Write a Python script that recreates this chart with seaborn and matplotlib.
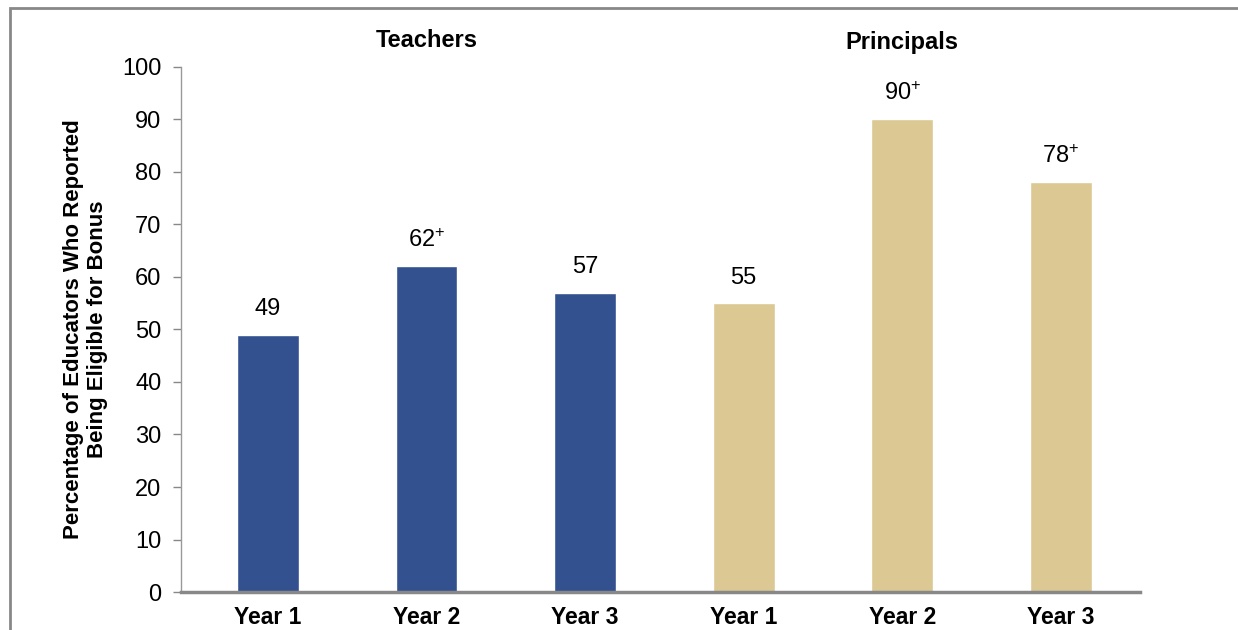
import pandas as pd
import seaborn as sns
import matplotlib.pyplot as plt
from matplotlib.patches import Rectangle

# values
groups = ["Teachers", "Teachers", "Teachers", "Principals", "Principals", "Principals"]
years = ["Year 1", "Year 2", "Year 3", "Year 1", "Year 2", "Year 3"]
values = [49, 62, 57, 55, 90, 78]
labels = ["49", "62$^{+}$", "57", "55", "90$^{+}$", "78$^{+}$"]
palette = {"Teachers": "#34518f", "Principals": "#dbc892"}


def main():
    sns.set_style("white")
    plt.rcParams["font.family"] = ["Liberation Sans", "DejaVu Sans"]
    plt.rcParams["mathtext.default"] = "regular"
    plt.rcParams["text.color"] = "black"
    plt.rcParams["axes.labelcolor"] = "black"
    plt.rcParams["xtick.color"] = "black"
    plt.rcParams["ytick.color"] = "black"

    df = pd.DataFrame({"group": groups, "year": years, "value": values})
    df["slot"] = df["group"] + " " + df["year"]

    fig = plt.figure(figsize=(12.38, 6.3), dpi=100)
    ax = fig.add_axes([0.146, 0.0603, 0.775, 0.8334])

    sns.barplot(data=df, x="slot", y="value", hue="group", palette=palette,
                dodge=False, width=0.39, saturation=1, legend=False, ax=ax)

    ax.set_ylim(0, 100)
    ax.set_xlim(-0.55, 5.5)
    ax.set_yticks(range(0, 101, 10))
    ax.tick_params(axis="y", labelsize=17, length=6, width=1, color="#888888",
                   left=True, pad=8)
    ax.set_xticks(range(len(years)))
    ax.set_xticklabels(years, fontsize=16.5, fontweight="bold")
    ax.tick_params(axis="x", length=0, pad=10)
    ax.set_xlabel("")
    ax.set_ylabel("Percentage of Educators Who Reported\nBeing Eligible for Bonus",
                  fontsize=16, fontweight="bold", labelpad=10)

    for s in ["top", "right"]:
        ax.spines[s].set_visible(False)
    ax.spines["left"].set_color("#999999")
    ax.spines["left"].set_linewidth(1)
    ax.spines["bottom"].set_color("#888888")
    ax.spines["bottom"].set_linewidth(2.5)

    for i, (v, lab) in enumerate(zip(values, labels)):
        ax.text(i, v + 2.8, lab, ha="center", va="bottom", fontsize=17)

    ax.text(1, 105, "Teachers", ha="center", va="center", fontsize=17,
            fontweight="bold")
    ax.text(4, 104.6, "Principals", ha="center", va="center", fontsize=17,
            fontweight="bold")

    # outer frame, running off the right and bottom edges
    fig.patches.append(Rectangle((10 / 1238, -0.1), 1.2, 1.1 - 8 / 630,
                                 transform=fig.transFigure, fill=False,
                                 edgecolor="#888888", linewidth=2))

    fig.savefig("out.png", dpi=100)


if __name__ == "__main__":
    main()
